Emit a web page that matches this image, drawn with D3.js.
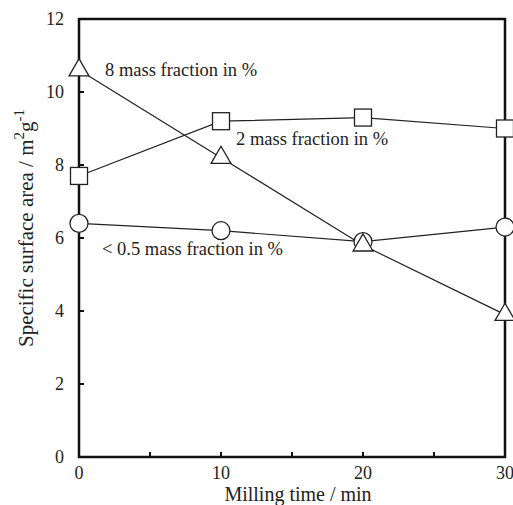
<!DOCTYPE html>
<html lang="en">
<head>
  <meta charset="UTF-8">
  <title>Specific surface area vs milling time</title>
  <style>
    html, body { margin: 0; background: #fff; }
  </style>
  <script src="https://cdn.jsdelivr.net/npm/d3@7"></script>
</head>
<body>
  <script>
    const width = 513
    const height = 505
    const margin = { left: 79, right: 8, top: 19, bottom: 48 }
    const serif = '"Liberation Serif", "Times New Roman", serif'

    // data
    const times = [0, 10, 20, 30]
    const tri = [10.6, 8.2, 5.8, 3.9]     // 8 mass fraction in %
    const sq = [7.7, 9.2, 9.3, 9.0]       // 2 mass fraction in %
    const circ = [6.4, 6.2, 5.9, 6.3]     // < 0.5 mass fraction in %
    const xTicks = [0, 10, 20, 30]
    const xMinor = [5, 15, 25]
    const yTicks = [0, 2, 4, 6, 8, 10, 12]

    const svg = d3.select('body').append('svg')
      .attr('width', width)
      .attr('height', height)

    const x = d3.scaleLinear().domain([0, 30]).range([margin.left, width - margin.right])
    const y = d3.scaleLinear().domain([0, 12]).range([height - margin.bottom, margin.top])

    // inward ticks
    const ax = svg.append('g')
    ax.selectAll('.xt').data(xTicks.concat(xMinor).filter(d => d > 0 && d < 30)).enter()
      .append('line')
      .attr('x1', d => x(d)).attr('x2', d => x(d))
      .attr('y1', y(0)).attr('y2', y(0) - 5)
      .attr('stroke', '#111').attr('stroke-width', 2)
    ax.selectAll('.yt').data(yTicks.filter(d => d > 0 && d < 12)).enter()
      .append('line')
      .attr('x1', x(0)).attr('x2', x(0) + 5)
      .attr('y1', d => y(d)).attr('y2', d => y(d))
      .attr('stroke', '#111').attr('stroke-width', 2)

    // tick labels
    ax.selectAll('.xl').data(xTicks).enter()
      .append('text')
      .attr('x', d => x(d)).attr('y', y(0) + 22)
      .attr('text-anchor', 'middle')
      .style('font-family', serif).style('font-size', '18px')
      .attr('fill', '#222')
      .text(d => d)
    ax.selectAll('.yl').data(yTicks).enter()
      .append('text')
      .attr('x', x(0) - 15).attr('y', d => y(d) + 6)
      .attr('text-anchor', 'end')
      .style('font-family', serif).style('font-size', '18px')
      .attr('fill', '#222')
      .text(d => d)

    // series lines
    const line = d3.line().x((d, i) => x(times[i])).y(d => y(d))
    ;[tri, sq, circ].forEach(s => {
      svg.append('path').datum(s)
        .attr('d', line)
        .attr('fill', 'none')
        .attr('stroke', '#222')
        .attr('stroke-width', 1.2)
    })

    // frame on top of lines, under markers
    svg.append('rect')
      .attr('x', x(0)).attr('y', y(12))
      .attr('width', x(30) - x(0)).attr('height', y(0) - y(12))
      .attr('fill', 'none').attr('stroke', '#111').attr('stroke-width', 2.5)

    // markers
    svg.selectAll('.circ').data(circ).enter()
      .append('circle')
      .attr('cx', (d, i) => x(times[i])).attr('cy', d => y(d))
      .attr('r', 9)
      .attr('fill', '#fff').attr('stroke', '#222').attr('stroke-width', 1.3)

    svg.selectAll('.sq').data(sq).enter()
      .append('rect')
      .attr('x', (d, i) => x(times[i]) - 8.5).attr('y', d => y(d) - 8.5)
      .attr('width', 17).attr('height', 17)
      .attr('fill', '#fff').attr('stroke', '#222').attr('stroke-width', 1.3)

    const triSym = d3.symbol().type(d3.symbolTriangle).size(170)
    svg.selectAll('.tri').data(tri).enter()
      .append('path')
      .attr('d', triSym)
      .attr('transform', (d, i) => `translate(${x(times[i])},${y(d)})`)
      .attr('fill', '#fff').attr('stroke', '#222').attr('stroke-width', 1.3)

    // series labels
    const labels = [
      { t: '8 mass fraction in %', x: 105, y: 76 },
      { t: '2 mass fraction in %', x: 236, y: 145 },
      { t: '< 0.5 mass fraction in %', x: 102, y: 255 }
    ]
    svg.selectAll('.lab').data(labels).enter()
      .append('text')
      .attr('x', d => d.x).attr('y', d => d.y)
      .style('font-family', serif).style('font-size', '18.5px')
      .attr('fill', '#222')
      .text(d => d.t)

    // axis titles
    svg.append('text')
      .attr('x', 298).attr('y', 501)
      .attr('text-anchor', 'middle')
      .style('font-family', serif).style('font-size', '20px')
      .attr('fill', '#222')
      .text('Milling time / min')

    const yt = svg.append('text')
      .attr('transform', 'translate(33,228) rotate(-90)')
      .attr('text-anchor', 'middle')
      .style('font-family', serif).style('font-size', '21px')
      .attr('fill', '#222')
    yt.append('tspan').text('Specific surface area / m')
    yt.append('tspan').attr('dy', -9).style('font-size', '15px').text('2')
    yt.append('tspan').attr('dy', 9).text('g')
    yt.append('tspan').attr('dy', -9).style('font-size', '15px').text('-1')
  </script>
</body>
</html>
